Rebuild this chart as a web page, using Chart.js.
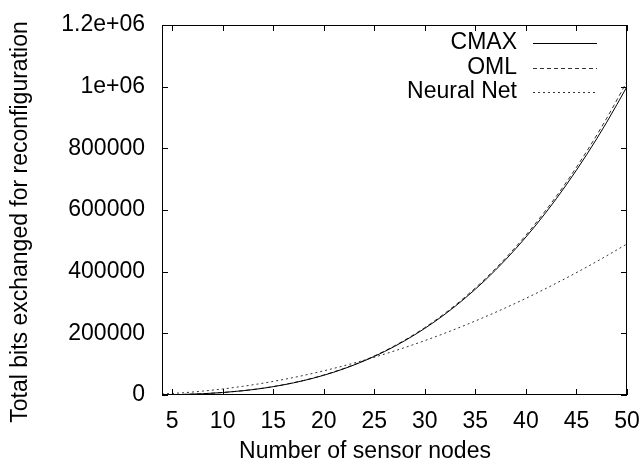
<!DOCTYPE html>
<html>
<head>
<meta charset="utf-8">
<script src="https://cdn.jsdelivr.net/npm/chart.js@4"></script>
<style>
  html, body { margin: 0; padding: 0; background: #fff; }
  #wrap { width: 641px; height: 465px; }
</style>
</head>
<body>
<div id="wrap"><canvas id="myChart" width="641" height="465"></canvas></div>
<script>
const nodes = [4, 6, 8, 10, 12, 14, 16, 18, 20, 22, 24, 26, 28, 30, 32, 34, 36, 38, 40, 42, 44, 46, 48, 50];

const cmax = [510, 1730, 4100, 8000, 13830, 21930, 32800, 46630, 64000, 85170, 110650, 140700,
  175700, 216100, 262200, 314600, 373400, 439200, 512200, 592900, 681700, 779000, 885000, 1000300];

const oml = [518, 1750, 4150, 8100, 14000, 22200, 33200, 47200, 64800, 86200, 112000, 142400,
  177800, 218700, 265400, 318400, 377900, 444500, 518400, 600500, 690000, 789500, 898000, 1017000];

const neuralNet = [3140, 7060, 12540, 19600, 28200, 38400, 50200, 63500, 78400, 94900, 112900, 132500,
  153700, 176400, 200700, 226600, 254000, 283000, 313600, 345700, 379500, 414700, 451600, 490000];

const xTicks = [5, 10, 15, 20, 25, 30, 35, 40, 45, 50];
const yTicks = [0, 200000, 400000, 600000, 800000, 1000000, 1200000];

const FONT = '"Liberation Sans", Arial, Helvetica, sans-serif';

function pts(ys) {
  return nodes.map((x, i) => ({ x: x, y: ys[i] }));
}

function fmtY(v) {
  if (v >= 1000000) {
    return (v / 1000000).toString() + 'e+06';
  }
  return v.toString();
}

// gnuplot-like frame: box, inward ticks on all sides, legend and axis titles
const frame = {
  id: 'frame',
  afterDraw(chart) {
    const c = chart.ctx;
    const a = chart.chartArea;
    const xs = chart.scales.x, ys = chart.scales.y;
    c.save();
    c.strokeStyle = '#000';
    c.lineWidth = 1;
    c.strokeRect(a.left + 0.5, a.top + 0.5, a.right - a.left - 1, a.bottom - a.top - 1);
    c.beginPath();
    xTicks.forEach(v => {
      const px = Math.round(xs.getPixelForValue(v)) + 0.5;
      c.moveTo(px, a.bottom); c.lineTo(px, a.bottom - 6);
      c.moveTo(px, a.top); c.lineTo(px, a.top + 6);
    });
    yTicks.forEach(v => {
      const py = Math.round(ys.getPixelForValue(v)) + 0.5;
      c.moveTo(a.left, py); c.lineTo(a.left + 6, py);
      c.moveTo(a.right, py); c.lineTo(a.right - 6, py);
    });
    c.stroke();

    // legend
    c.font = '23px ' + FONT;
    c.fillStyle = '#000';
    c.textAlign = 'right';
    c.textBaseline = 'middle';
    chart.data.datasets.forEach((ds, i) => {
      const y = 43 + i * 24.5;
      c.fillText(ds.label, 517, y);
      c.strokeStyle = ds.borderColor;
      c.setLineDash(ds.borderDash || []);
      c.beginPath();
      c.moveTo(533, Math.round(y) + 0.5);
      c.lineTo(597, Math.round(y) + 0.5);
      c.stroke();
    });
    c.setLineDash([]);

    // axis titles
    c.textAlign = 'center';
    c.textBaseline = 'alphabetic';
    c.fillText('Number of sensor nodes', 365, 458);
    c.translate(27, 222);
    c.rotate(-Math.PI / 2);
    c.fillText('Total bits exchanged for reconfiguration', 0, 0);
    c.restore();
  }
};

new Chart(document.getElementById('myChart'), {
  type: 'line',
  data: {
    datasets: [{
      label: 'CMAX',
      data: pts(cmax),
      borderColor: '#000',
      borderWidth: 1,
      pointRadius: 0,
      cubicInterpolationMode: 'monotone'
    }, {
      label: 'OML',
      data: pts(oml),
      borderColor: '#333',
      borderWidth: 1,
      borderDash: [4, 3],
      pointRadius: 0,
      cubicInterpolationMode: 'monotone'
    }, {
      label: 'Neural Net',
      data: pts(neuralNet),
      borderColor: '#333',
      borderWidth: 1,
      borderDash: [2, 3],
      pointRadius: 0,
      cubicInterpolationMode: 'monotone'
    }]
  },
  options: {
    responsive: false,
    animation: false,
    layout: { padding: { top: 25, right: 14, left: 0, bottom: 0 } },
    plugins: {
      legend: { display: false },
      tooltip: { enabled: false }
    },
    scales: {
      x: {
        type: 'linear',
        min: 4,
        max: 50,
        afterBuildTicks: s => { s.ticks = xTicks.map(v => ({ value: v })); },
        afterFit: s => { s.height = 70; s.paddingLeft = 0; s.paddingRight = 0; },
        grid: { display: false, drawTicks: false },
        border: { display: false },
        ticks: {
          padding: 13,
          color: '#000',
          font: { family: FONT, size: 23 }
        }
      },
      y: {
        type: 'linear',
        min: 0,
        max: 1200000,
        afterBuildTicks: s => { s.ticks = yTicks.map(v => ({ value: v })); },
        afterFit: s => { s.width = 162; s.paddingTop = 0; s.paddingBottom = 0; },
        grid: { display: false, drawTicks: false },
        border: { display: false },
        ticks: {
          padding: 17,
          color: '#000',
          font: { family: FONT, size: 23 },
          callback: v => fmtY(v)
        }
      }
    }
  },
  plugins: [frame]
});
</script>
</body>
</html>
